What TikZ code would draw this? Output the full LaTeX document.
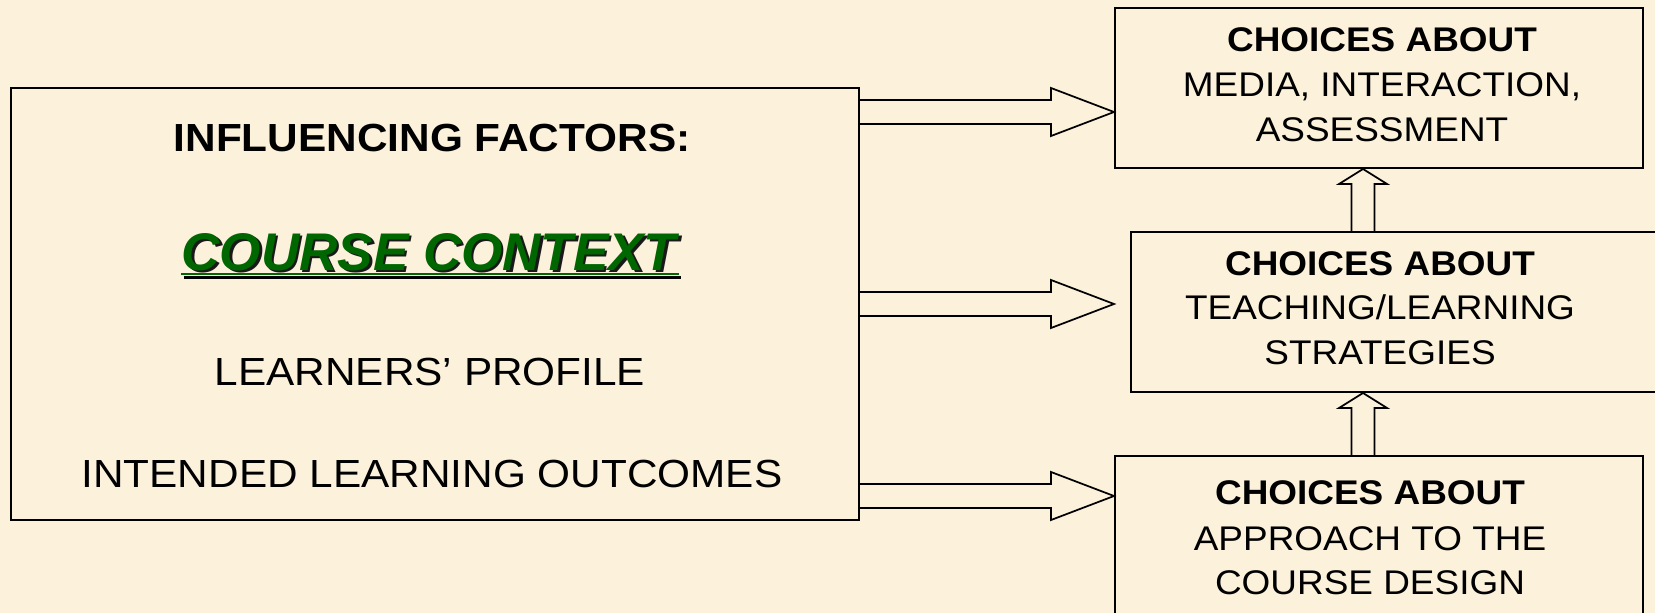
\documentclass[tikz,border=0pt]{standalone}
\usepackage{fontspec}
\setmainfont{Liberation Sans}[FakeStretch=1.08]
\newfontfamily\ctxfont{Liberation Sans}
\usetikzlibrary{calc}
\definecolor{paper}{RGB}{252,242,220}
\definecolor{ctxgreen}{RGB}{0,102,0}
\definecolor{shade}{RGB}{25,25,25}

% horizontal block arrow: tail point, tip point
\newcommand\blockarrowright[2]{%
  \draw[blockarrow] ($(#1)+(0,-12)$) -- ($(#2)+(-63,-12)$) -- ($(#2)+(-63,-24)$)
    -- (#2) -- ($(#2)+(-63,24)$) -- ($(#2)+(-63,12)$) -- ($(#1)+(0,12)$);}
% vertical block arrow pointing up: tail point, tip point
\newcommand\blockarrowup[2]{%
  \draw[blockarrow] ($(#1)+(-11.5,0)$) -- ($(#2)+(-11.5,15)$) -- ($(#2)+(-24,15)$)
    -- (#2) -- ($(#2)+(24,15)$) -- ($(#2)+(11.5,15)$) -- ($(#1)+(11.5,0)$);}

\begin{document}
\begin{tikzpicture}[x=0.75pt,y=-0.75pt,
  panel/.style={draw=black,line width=1.5pt,inner sep=0pt},
  blockarrow/.style={draw=black,line width=1.3pt,line join=miter},
  txt/.style={inner sep=0pt,anchor=base},
  lefttxt/.style={txt,font=\fontsize{29.4}{36}\selectfont},
  leftbold/.style={lefttxt,font=\fontsize{29.4}{36}\selectfont\bfseries},
  righttxt/.style={txt,font=\fontsize{25.65}{31}\selectfont},
  rightbold/.style={righttxt,font=\fontsize{25.65}{31}\selectfont\bfseries},
  ctx/.style={txt,font=\ctxfont\fontsize{39.75}{48}\selectfont\bfseries\itshape}]

% page and background
\useasboundingbox (0,0) rectangle (1655,613);
\fill[paper] (0,0) rectangle (1655,613);
\clip (0,0) rectangle (1655,613);

% boxes
\node[panel,minimum width=636pt,minimum height=324pt] (L) at (435,304) {};
\node[panel,minimum width=396pt,minimum height=120pt] (T) at (1379,88) {};
\node[panel,minimum width=426.75pt,minimum height=120pt] (M) at (1415.5,312) {};
\node[panel,minimum width=396pt,minimum height=183pt] (B) at (1379,578) {};

% left box text
\node[leftbold] (lf1) at (432,151.7) {INFLUENCING FACTORS:};
\node[ctx,text=shade] (ccs) at (431.5,272.5) {COURSE CONTEXT};
\node[ctx,text=ctxgreen] (cc) at (429,270) {COURSE CONTEXT};
\draw[shade,line width=2.2pt] ($(ccs.base west)+(0,5)$) -- ($(ccs.base east)+(2,5)$);
\draw[ctxgreen,line width=2.2pt] ($(cc.base west)+(0,4)$) -- ($(cc.base east)+(2,4)$);
\node[lefttxt] (lf3) at (430,385.5) {LEARNERS’ PROFILE};
\node[lefttxt] (lf4) at (432,487) {INTENDED LEARNING OUTCOMES};

% top right box text
\node[rightbold] (t1) at (1382,52) {CHOICES ABOUT};
\node[righttxt] (t2) at (1382,96.5) {MEDIA, INTERACTION,};
\node[righttxt] (t3) at (1382,141.5) {ASSESSMENT};

% middle right box text
\node[rightbold] (m1) at (1380,275.6) {CHOICES ABOUT};
\node[righttxt] (m2) at (1380,319.8) {TEACHING/LEARNING};
\node[righttxt] (m3) at (1380,364.3) {STRATEGIES};

% bottom right box text
\node[rightbold] (b1) at (1370,504.5) {CHOICES ABOUT};
\node[righttxt] (b2) at (1370,550) {APPROACH TO THE};
\node[righttxt] (b3) at (1370,594) {COURSE DESIGN};

% arrow end points
\coordinate (a1s) at (L.east |- 0,112);
\coordinate (a1e) at (T.west |- 0,112);
\coordinate (a2s) at (L.east |- 0,304);
\coordinate (a2e) at (T.west |- 0,304);
\coordinate (a3s) at (L.east |- 0,496);
\coordinate (a3e) at (B.west |- 0,496);
\coordinate (u1s) at (1363,0 |- M.north);
\coordinate (u1e) at (1363,0 |- T.south);
\coordinate (u2s) at (1363,0 |- B.north);
\coordinate (u2e) at (1363,0 |- M.south);

% connectors
\blockarrowright{a1s}{a1e}
\blockarrowright{a2s}{a2e}
\blockarrowright{a3s}{a3e}
\blockarrowup{u1s}{u1e}
\blockarrowup{u2s}{u2e}
\end{tikzpicture}
\end{document}
